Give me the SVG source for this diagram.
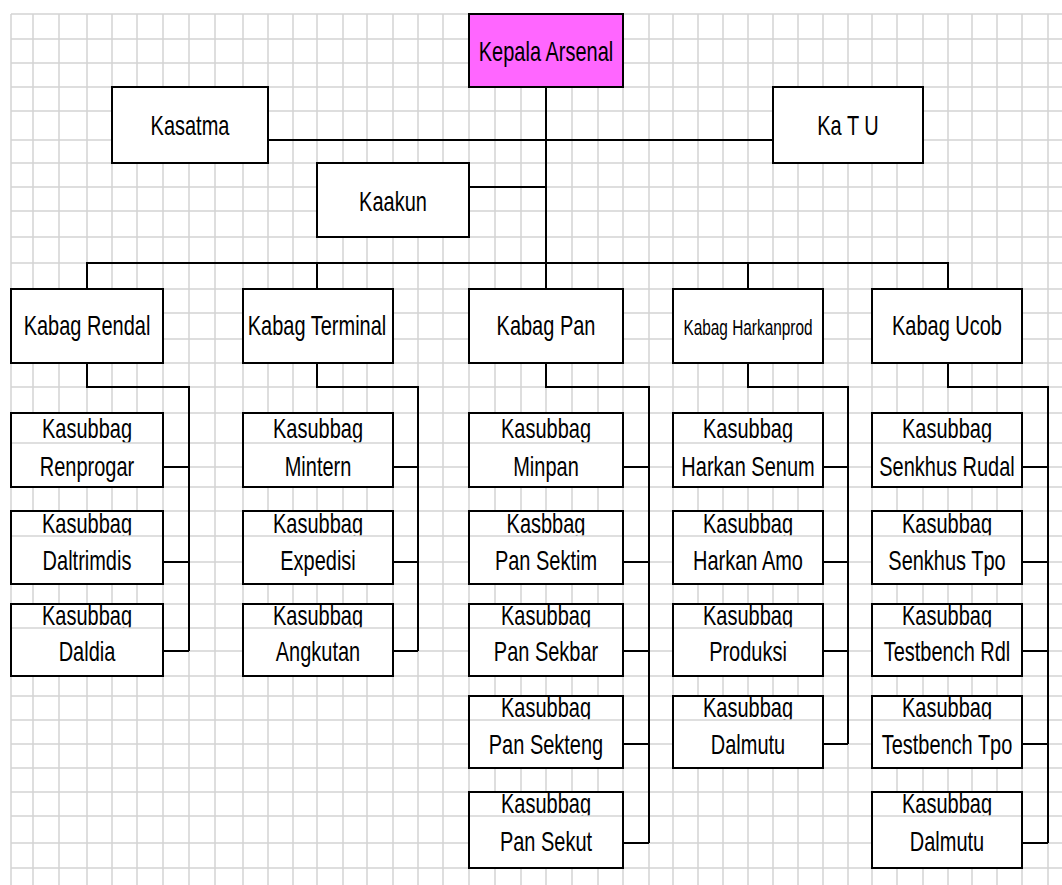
<svg xmlns="http://www.w3.org/2000/svg" width="1062" height="885" viewBox="0 0 1062 885">
  <style>
    .grid { fill: none; stroke: #d4d4d4; stroke-width: 1.5; }
    .box { fill: #ffffff; stroke: #000000; stroke-width: 2; }
    .head { fill: #ff66ff; stroke: #000000; stroke-width: 2; }
    .wire { fill: none; stroke: #000000; stroke-width: 2; }
    .cell { stroke: #d4d4d4; stroke-width: 1.5; }
    .mask { fill: #ffffff; }
    text { font-family: "Liberation Sans", Arial, sans-serif; font-size: 27px; fill: #000000; text-anchor: middle; }
    .small { font-size: 22px; }
  </style>

  <rect width="1062" height="885" fill="#ffffff"/>

  <!-- worksheet grid -->
  <path class="grid" d="
    M11 14V885 M33 14V885 M59 14V885 M87 14V885 M112 14V885 M137 14V885 M163 14V885 M189 14V885
    M215 14V885 M243 14V885 M268 14V885 M293 14V885 M317 14V885 M343 14V885 M367 14V885 M393 14V885
    M418 14V885 M443 14V885 M469 14V885 M495 14V885 M521 14V885 M546 14V885 M572 14V885 M598 14V885
    M623 14V885 M649 14V885 M673 14V885 M698 14V885 M723 14V885 M748 14V885 M773 14V885 M798 14V885
    M823 14V885 M848 14V885 M872 14V885 M897 14V885 M923 14V885 M948 14V885 M972 14V885 M997 14V885
    M1022 14V885 M1048 14V885
    M11 14H1062 M11 39H1062 M11 63H1062 M11 87H1062 M11 111H1062 M11 140H1062 M11 163H1062
    M11 187H1062 M11 211H1062 M11 237H1062 M11 263H1062 M11 289H1062 M11 313H1062 M11 339H1062
    M11 363H1062 M11 387H1062 M11 413H1062 M11 443H1062 M11 467H1062 M11 487H1062 M11 511H1062
    M11 536H1062 M11 562H1062 M11 584H1062 M11 604H1062 M11 628H1062 M11 651H1062 M11 676H1062
    M11 696H1062 M11 720H1062 M11 744H1062 M11 768H1062 M11 792H1062 M11 816H1062 M11 843H1062
    M11 868H1062"/>

  <!-- connectors -->
  <g id="connectors">
    <path class="wire" d="M546 87V289 M268 140H773 M469 187H546"/>
    <path class="wire" d="M87 289V263H948V289 M317 263V289 M748 263V289"/>
    <path class="wire" d="M87 363V387H189V651 M163 467H189 M163 562H189 M163 651H189"/>
    <path class="wire" d="M317 363V387H418V651 M393 467H418 M393 562H418 M393 651H418"/>
    <path class="wire" d="M546 363V387H649V843 M623 467H649 M623 562H649 M623 651H649 M623 744H649 M623 843H649"/>
    <path class="wire" d="M748 363V387H848V744 M823 467H848 M823 562H848 M823 651H848 M823 744H848"/>
    <path class="wire" d="M948 363V387H1048V843 M1022 467H1048 M1022 562H1048 M1022 651H1048 M1022 744H1048 M1022 843H1048"/>
  </g>

  <!-- top level -->
  <g id="kepala-arsenal">
    <rect class="head" x="469" y="14" width="154" height="73"/>
    <text transform="matrix(0.74 0 0 1 546 61)">Kepala Arsenal</text>
  </g>
  <g id="kasatma">
    <rect class="box" x="112" y="87" width="156" height="76"/>
    <text transform="matrix(0.74 0 0 1 190 135)">Kasatma</text>
  </g>
  <g id="ka-tu">
    <rect class="box" x="773" y="87" width="150" height="76"/>
    <text transform="matrix(0.74 0 0 1 848 135)">Ka T U</text>
  </g>
  <g id="kaakun">
    <rect class="box" x="317" y="163" width="152" height="74"/>
    <text transform="matrix(0.74 0 0 1 393 211)">Kaakun</text>
  </g>

  <!-- section heads -->
  <g id="kabag-rendal">
    <rect class="box" x="11" y="289" width="152" height="74"/>
    <text transform="matrix(0.74 0 0 1 87 335)">Kabag Rendal</text>
  </g>
  <g id="kabag-terminal">
    <rect class="box" x="243" y="289" width="150" height="74"/>
    <text transform="matrix(0.74 0 0 1 317 335)">Kabag Terminal</text>
  </g>
  <g id="kabag-pan">
    <rect class="box" x="469" y="289" width="154" height="74"/>
    <text transform="matrix(0.74 0 0 1 546 335)">Kabag Pan</text>
  </g>
  <g id="kabag-harkanprod">
    <rect class="box" x="673" y="289" width="150" height="74"/>
    <text class="small" transform="matrix(0.7 0 0 1 748 335)">Kabag Harkanprod</text>
  </g>
  <g id="kabag-ucob">
    <rect class="box" x="872" y="289" width="150" height="74"/>
    <text transform="matrix(0.74 0 0 1 947 335)">Kabag Ucob</text>
  </g>

  <!-- Rendal sub-sections -->
  <g id="rendal-1">
    <rect class="box" x="11" y="413" width="152" height="74"/>
    <text transform="matrix(0.74 0 0 1 87 438)">Kasubbag</text>
    <rect class="mask" x="12" y="443" width="150" height="7"/>
    <line class="cell" x1="12" y1="443" x2="162" y2="443"/>
    <text transform="matrix(0.74 0 0 1 87 476)">Renprogar</text>
  </g>
  <g id="rendal-2">
    <rect class="box" x="11" y="511" width="152" height="73"/>
    <text transform="matrix(0.74 0 0 1 87 533)">Kasubbag</text>
    <rect class="mask" x="12" y="536" width="150" height="7"/>
    <line class="cell" x1="12" y1="536" x2="162" y2="536"/>
    <text transform="matrix(0.74 0 0 1 87 570)">Daltrimdis</text>
  </g>
  <g id="rendal-3">
    <rect class="box" x="11" y="604" width="152" height="72"/>
    <text transform="matrix(0.74 0 0 1 87 625)">Kasubbag</text>
    <rect class="mask" x="12" y="628" width="150" height="7"/>
    <line class="cell" x1="12" y1="628" x2="162" y2="628"/>
    <text transform="matrix(0.74 0 0 1 87 661)">Daldia</text>
  </g>

  <!-- Terminal sub-sections -->
  <g id="terminal-1">
    <rect class="box" x="243" y="413" width="150" height="74"/>
    <text transform="matrix(0.74 0 0 1 318 438)">Kasubbag</text>
    <rect class="mask" x="244" y="443" width="148" height="7"/>
    <line class="cell" x1="244" y1="443" x2="392" y2="443"/>
    <text transform="matrix(0.74 0 0 1 318 476)">Mintern</text>
  </g>
  <g id="terminal-2">
    <rect class="box" x="243" y="511" width="150" height="73"/>
    <text transform="matrix(0.74 0 0 1 318 533)">Kasubbag</text>
    <rect class="mask" x="244" y="536" width="148" height="7"/>
    <line class="cell" x1="244" y1="536" x2="392" y2="536"/>
    <text transform="matrix(0.74 0 0 1 318 570)">Expedisi</text>
  </g>
  <g id="terminal-3">
    <rect class="box" x="243" y="604" width="150" height="72"/>
    <text transform="matrix(0.74 0 0 1 318 625)">Kasubbag</text>
    <rect class="mask" x="244" y="628" width="148" height="7"/>
    <line class="cell" x1="244" y1="628" x2="392" y2="628"/>
    <text transform="matrix(0.74 0 0 1 318 661)">Angkutan</text>
  </g>

  <!-- Pan sub-sections -->
  <g id="pan-1">
    <rect class="box" x="469" y="413" width="154" height="74"/>
    <text transform="matrix(0.74 0 0 1 546 438)">Kasubbag</text>
    <rect class="mask" x="470" y="443" width="152" height="7"/>
    <line class="cell" x1="470" y1="443" x2="622" y2="443"/>
    <text transform="matrix(0.74 0 0 1 546 476)">Minpan</text>
  </g>
  <g id="pan-2">
    <rect class="box" x="469" y="511" width="154" height="73"/>
    <text transform="matrix(0.74 0 0 1 546 533)">Kasbbag</text>
    <rect class="mask" x="470" y="536" width="152" height="7"/>
    <line class="cell" x1="470" y1="536" x2="622" y2="536"/>
    <text transform="matrix(0.74 0 0 1 546 570)">Pan Sektim</text>
  </g>
  <g id="pan-3">
    <rect class="box" x="469" y="604" width="154" height="72"/>
    <text transform="matrix(0.74 0 0 1 546 625)">Kasubbag</text>
    <rect class="mask" x="470" y="628" width="152" height="7"/>
    <line class="cell" x1="470" y1="628" x2="622" y2="628"/>
    <text transform="matrix(0.74 0 0 1 546 661)">Pan Sekbar</text>
  </g>
  <g id="pan-4">
    <rect class="box" x="469" y="696" width="154" height="72"/>
    <text transform="matrix(0.74 0 0 1 546 717)">Kasubbag</text>
    <rect class="mask" x="470" y="720" width="152" height="7"/>
    <line class="cell" x1="470" y1="720" x2="622" y2="720"/>
    <text transform="matrix(0.74 0 0 1 546 754)">Pan Sekteng</text>
  </g>
  <g id="pan-5">
    <rect class="box" x="469" y="792" width="154" height="76"/>
    <text transform="matrix(0.74 0 0 1 546 813)">Kasubbag</text>
    <rect class="mask" x="470" y="816" width="152" height="7"/>
    <line class="cell" x1="470" y1="816" x2="622" y2="816"/>
    <text transform="matrix(0.74 0 0 1 546 851)">Pan Sekut</text>
  </g>

  <!-- Harkanprod sub-sections -->
  <g id="harkanprod-1">
    <rect class="box" x="673" y="413" width="150" height="74"/>
    <text transform="matrix(0.74 0 0 1 748 438)">Kasubbag</text>
    <rect class="mask" x="674" y="443" width="148" height="7"/>
    <line class="cell" x1="674" y1="443" x2="822" y2="443"/>
    <text transform="matrix(0.74 0 0 1 748 476)">Harkan Senum</text>
  </g>
  <g id="harkanprod-2">
    <rect class="box" x="673" y="511" width="150" height="73"/>
    <text transform="matrix(0.74 0 0 1 748 533)">Kasubbag</text>
    <rect class="mask" x="674" y="536" width="148" height="7"/>
    <line class="cell" x1="674" y1="536" x2="822" y2="536"/>
    <text transform="matrix(0.74 0 0 1 748 570)">Harkan Amo</text>
  </g>
  <g id="harkanprod-3">
    <rect class="box" x="673" y="604" width="150" height="72"/>
    <text transform="matrix(0.74 0 0 1 748 625)">Kasubbag</text>
    <rect class="mask" x="674" y="628" width="148" height="7"/>
    <line class="cell" x1="674" y1="628" x2="822" y2="628"/>
    <text transform="matrix(0.74 0 0 1 748 661)">Produksi</text>
  </g>
  <g id="harkanprod-4">
    <rect class="box" x="673" y="696" width="150" height="72"/>
    <text transform="matrix(0.74 0 0 1 748 717)">Kasubbag</text>
    <rect class="mask" x="674" y="720" width="148" height="7"/>
    <line class="cell" x1="674" y1="720" x2="822" y2="720"/>
    <text transform="matrix(0.74 0 0 1 748 754)">Dalmutu</text>
  </g>

  <!-- Ucob sub-sections -->
  <g id="ucob-1">
    <rect class="box" x="872" y="413" width="150" height="74"/>
    <text transform="matrix(0.74 0 0 1 947 438)">Kasubbag</text>
    <rect class="mask" x="873" y="443" width="148" height="7"/>
    <line class="cell" x1="873" y1="443" x2="1021" y2="443"/>
    <text transform="matrix(0.74 0 0 1 947 476)">Senkhus Rudal</text>
  </g>
  <g id="ucob-2">
    <rect class="box" x="872" y="511" width="150" height="73"/>
    <text transform="matrix(0.74 0 0 1 947 533)">Kasubbag</text>
    <rect class="mask" x="873" y="536" width="148" height="7"/>
    <line class="cell" x1="873" y1="536" x2="1021" y2="536"/>
    <text transform="matrix(0.74 0 0 1 947 570)">Senkhus Tpo</text>
  </g>
  <g id="ucob-3">
    <rect class="box" x="872" y="604" width="150" height="72"/>
    <text transform="matrix(0.74 0 0 1 947 625)">Kasubbag</text>
    <rect class="mask" x="873" y="628" width="148" height="7"/>
    <line class="cell" x1="873" y1="628" x2="1021" y2="628"/>
    <text transform="matrix(0.74 0 0 1 947 661)">Testbench Rdl</text>
  </g>
  <g id="ucob-4">
    <rect class="box" x="872" y="696" width="150" height="72"/>
    <text transform="matrix(0.74 0 0 1 947 717)">Kasubbag</text>
    <rect class="mask" x="873" y="720" width="148" height="7"/>
    <line class="cell" x1="873" y1="720" x2="1021" y2="720"/>
    <text transform="matrix(0.74 0 0 1 947 754)">Testbench Tpo</text>
  </g>
  <g id="ucob-5">
    <rect class="box" x="872" y="792" width="150" height="76"/>
    <text transform="matrix(0.74 0 0 1 947 813)">Kasubbag</text>
    <rect class="mask" x="873" y="816" width="148" height="7"/>
    <line class="cell" x1="873" y1="816" x2="1021" y2="816"/>
    <text transform="matrix(0.74 0 0 1 947 851)">Dalmutu</text>
  </g>
</svg>
